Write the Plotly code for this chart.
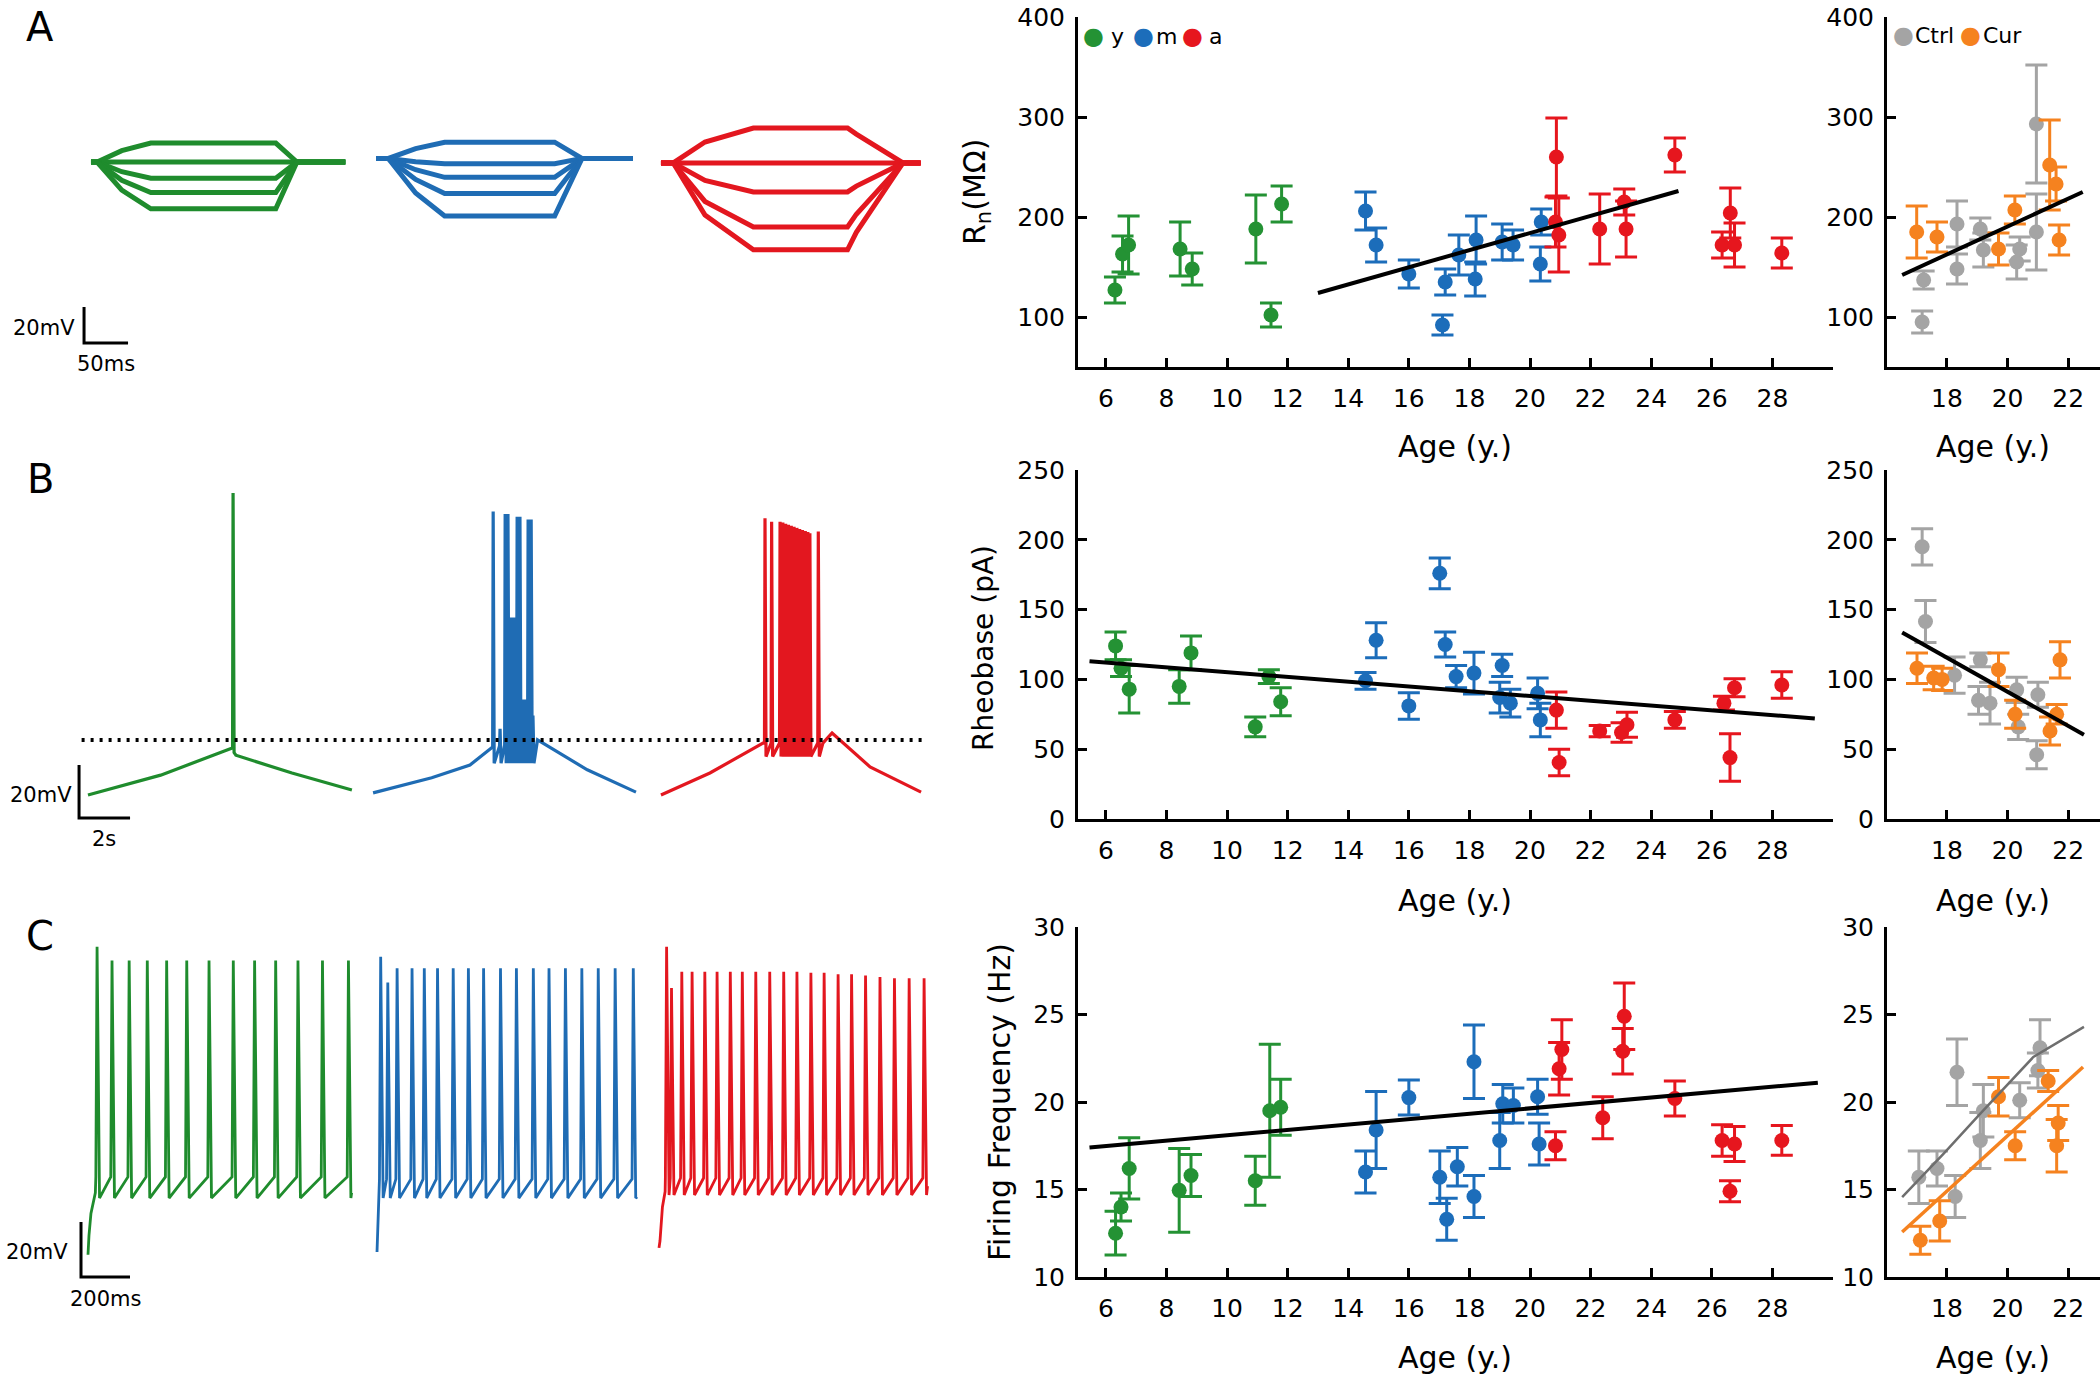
import numpy as np
import plotly.graph_objects as go

W, H = 2100, 1375
FONT = "DejaVu Sans"

# ---------------- colours ----------------
C_Y, C_M, C_A = "#249234", "#1c6dba", "#e6161e"
C_CTRL, C_CUR = "#a4a4a4", "#f5821f"
TR_Y, TR_M, TR_A = "#1f8c2d", "#1f6cb4", "#e3171f"

# ================= DATA =================
# ---- Panel A traces: hyperpolarising current steps (time ms, Vm mV) ----
stepA_t_y = [0, 7, 35, 68, 210, 234, 289]
stepA_v_y = [[-70, -70, -63.7, -59.5, -59.5, -70, -70],
             [-70, -70, -70.3, -70.5, -70.5, -70, -70],
             [-70, -70, -75.4, -79.0, -79.0, -70, -70],
             [-70, -70, -80.2, -87.0, -87.0, -70, -70],
             [-70, -70, -85.6, -96.0, -96.0, -70, -70]]
stepA_t_m = [0, 14, 45, 78, 203, 234, 292]
stepA_v_m = [[-68, -68, -62.6, -59.0, -59.0, -68, -68],
             [-68, -68, -69.8, -71.0, -71.0, -68, -68],
             [-68, -68, -74.3, -78.5, -78.5, -68, -68],
             [-68, -68, -79.7, -87.5, -87.5, -68, -68],
             [-68, -68, -87.2, -100.0, -100.0, -68, -68]]
stepA_t_a = [0, 14, 50, 105, 212, 222, 275, 295]
stepA_v_a = [[-70.5, -70.5, -58.9, -51.1, -51.1, -54.5, -70.5, -70.5],
             [-70.5, -70.5, -70.5, -70.5, -70.5, -70.5, -70.5, -70.5],
             [-70.5, -70.5, -80.2, -86.6, -86.6, -83.4, -70.5, -70.5],
             [-70.5, -70.5, -91.9, -106.1, -106.1, -99.0, -70.5, -70.5],
             [-70.5, -70.5, -99.5, -118.8, -118.8, -109.1, -70.5, -70.5]]

# ---- Panel B traces: ramp current (time s, Vm mV) ----
rampB_base_t_y = [0, 2.85, 5.66, 5.80, 8.0, 10.35]
rampB_base_v_y = [-70, -62.5, -52.3, -55, -61.7, -68.1]
rampB_spk_t_y = [5.69]
rampB_spk_v_y = [44]
rampB_trough_y = -54

rampB_base_t_m = [0, 2.3, 3.8, 4.68, 6.45, 8.4, 10.31]
rampB_base_v_m = [-69.2, -63.5, -58.7, -51.9, -49.2, -60.5, -68.9]
rampB_spk_t_m = [4.71, 4.98, 5.18, 5.29, 5.41, 5.49, 5.57, 5.65, 5.76, 5.84, 5.92, 6.00, 6.08, 6.20, 6.27]
rampB_spk_v_m = [37, -45, 36, 36, -3, -3, -3, 35, 35, -34, -34, -34, 34, 34, -40]
rampB_trough_m = -58

rampB_base_t_a = [0, 1.92, 4.0, 6.35, 6.71, 8.2, 10.2]
rampB_base_v_a = [-70, -61.7, -50.4, -50.4, -46.6, -59.4, -68.9]
rampB_spk_t_a = [4.08, 4.34, 4.67, 4.78, 4.89, 5.00, 5.11, 5.22, 5.33, 5.44, 5.55, 5.66, 5.76, 5.84, 6.17]
rampB_spk_v_a = [34.4, 33.1, 33.1, 32.8, 32.4, 32.0, 31.6, 31.2, 30.8, 30.4, 30.0, 29.6, 29.2, 28.8, 29.4]
rampB_trough_a = -55.5
rampB_threshold = -49.2

# ---- Panel C traces: 1 s depolarising step (time ms, Vm mV) ----
trainC_pre_t_y = [0, 4, 12, 30]
trainC_pre_v_y = [-91, -84, -76, -68.5]
trainC_spk_t_y = [37, 98, 168, 242, 321, 403, 494, 593, 680, 766, 857, 957, 1063]
trainC_spk_v_y = [21, 16, 16, 16, 16, 16, 16, 16, 16, 16, 16, 16, 16]
trainC_thr_y, trainC_trough_y = -62.7, -70.4
trainC_end_y = (1076, -68.5)

trainC_pre_t_m = [0, 3, 8]
trainC_pre_v_m = [-90, -80, -71]
trainC_spk_t_m = [15, 44, 82, 143, 193, 247, 311, 373, 435, 504, 569, 638, 702, 769, 836, 903, 972, 1046]
trainC_spk_v_m = [17.4, 8, 13.2, 13.2, 13.2, 13.2, 13.2, 13.2, 13.2, 13.2, 13.2, 13.2, 13.2, 13.2, 13.2, 13.2, 13.2, 13.2]
trainC_thr_m, trainC_trough_m = -63.5, -70.4
trainC_end_m = (1062, -70)

trainC_pre_t_a = [0, 4, 14, 25]
trainC_pre_v_a = [-88.5, -86, -73.6, -68]
trainC_spk_t_a = [31, 51, 93, 135, 187, 237, 291, 340, 395, 452, 509, 563, 620, 674, 731, 786, 843, 902, 961, 1021, 1082]
trainC_spk_v_a = [21, 6, 11.9, 11.9, 11.9, 11.9, 11.9, 11.9, 11.9, 11.9, 11.9, 11.9, 11.5, 11.5, 11, 11, 10.5, 10, 9.5, 9.5, 9.5]
trainC_thr_a, trainC_trough_a = -63.1, -69.3
trainC_end_a = (1096, -66)

# ---- Scatter: input resistance Rn (MOhm) ----
rn_age_y = [6.3, 6.55, 6.75, 8.45, 8.85, 10.95, 11.45, 11.8]
rn_val_y = [127, 163, 172, 168, 148, 188, 102, 213]
rn_err_y = [13, 18, 29, 27, 16, 34, 12, 18]
rn_age_m = [14.57, 14.92, 16.0, 17.11, 17.2, 17.65, 18.19, 18.22, 19.08, 19.44, 20.34, 20.37]
rn_val_m = [206, 172, 143, 92, 135, 162, 138, 177, 175, 172, 153, 195]
rn_err_m = [19, 17, 14, 10, 13, 20, 17, 24, 18, 15, 17, 13]
rn_age_a = [20.84, 20.87, 20.95, 22.3, 23.11, 23.17, 24.78, 26.34, 26.61, 26.75, 28.31]
rn_val_a = [195, 260, 182, 188, 215, 188, 262, 172, 204, 172, 164]
rn_err_a = [25, 39, 37, 35, 13, 28, 17, 13, 25, 22, 15]
rn_fit_age, rn_fit_val = [13.0, 24.9], [124, 226]

rn_age_ctrl = [17.18, 17.23, 18.33, 18.33, 19.1, 19.2, 20.3, 20.4, 20.95, 20.95]
rn_val_ctrl = [95, 137, 193, 148, 188, 167, 155, 168, 293, 185]
rn_err_ctrl = [11, 9, 23, 15, 11, 17, 17, 12, 59, 38]
rn_age_cur = [17.0, 17.67, 19.7, 20.24, 21.39, 21.6, 21.7]
rn_val_cur = [185, 180, 168, 207, 252, 233, 177]
rn_err_cur = [26, 15, 16, 14, 45, 17, 15]
rn_fit2_age, rn_fit2_val = [16.52, 22.48], [142, 225]

# ---- Scatter: rheobase (pA) ----
rh_age_y = [6.32, 6.5, 6.77, 8.42, 8.81, 10.93, 11.38, 11.77]
rh_val_y = [124, 108, 93, 95, 119, 66, 102, 84]
rh_err_y = [10, 6, 17, 12, 12, 7, 5, 10]
rh_age_m = [14.57, 14.92, 16.0, 17.02, 17.2, 17.56, 18.15, 19.0, 19.08, 19.35, 20.25, 20.34]
rh_val_m = [99, 128, 81, 176, 125, 102, 104.5, 87, 110, 83, 90, 71]
rh_err_m = [6, 12.5, 9.5, 11, 9, 8, 15, 11, 8, 10, 11, 12]
rh_age_a = [20.87, 20.96, 22.3, 23.02, 23.2, 24.78, 26.4, 26.6, 26.75, 28.31]
rh_val_a = [78, 40.5, 63, 62, 67.5, 71, 83, 44, 94, 96]
rh_err_a = [13, 9.5, 4, 7, 9, 6, 5, 17, 6.5, 9.5]
rh_fit_age, rh_fit_val = [5.46, 29.4], [113, 72]

rh_age_ctrl = [17.18, 17.29, 18.25, 19.1, 19.04, 19.42, 20.3, 20.35, 21.0, 20.96]
rh_val_ctrl = [195, 141.5, 103, 114, 85, 83, 92.5, 66, 89, 46]
rh_err_ctrl = [13, 15, 13, 5, 10, 15, 9, 9, 9, 10]
rh_age_cur = [17.01, 17.56, 17.84, 19.7, 20.25, 21.4, 21.62, 21.73]
rh_val_cur = [108, 101, 100, 107, 75, 63, 75, 114]
rh_err_cur = [11, 8.5, 8, 12, 10, 10, 7, 13]
rh_fit2_age, rh_fit2_val = [16.52, 22.52], [133.6, 60.4]

# ---- Scatter: firing frequency (Hz) ----
ff_age_y = [6.32, 6.5, 6.77, 8.42, 8.81, 10.93, 11.41, 11.77]
ff_val_y = [12.5, 14.0, 16.2, 14.95, 15.8, 15.5, 19.5, 19.7]
ff_err_y = [1.25, 0.8, 1.75, 2.4, 1.2, 1.4, 3.8, 1.6]
ff_age_m = [14.57, 14.92, 16.0, 17.02, 17.25, 17.6, 18.15, 18.15, 19.0, 19.1, 19.45, 20.25, 20.3]
ff_val_m = [16.0, 18.4, 20.25, 15.7, 13.3, 16.3, 22.3, 14.6, 17.8, 19.9, 19.8, 20.3, 17.6]
ff_err_m = [1.2, 2.2, 1.0, 1.5, 1.2, 1.1, 2.1, 1.2, 1.6, 1.1, 1.0, 1.0, 1.2]
ff_age_a = [20.84, 20.96, 21.05, 22.4, 23.06, 23.11, 24.78, 26.34, 26.6, 26.75, 28.31]
ff_val_a = [17.5, 21.9, 23.0, 19.1, 22.9, 24.9, 20.2, 17.8, 14.9, 17.6, 17.8]
ff_err_a = [0.8, 1.5, 1.7, 1.2, 1.3, 1.9, 1.0, 0.9, 0.6, 1.0, 0.85]
ff_fit_age, ff_fit_val = [5.46, 29.5], [17.4, 21.1]

ff_age_ctrl = [17.07, 17.67, 18.27, 18.33, 19.1, 19.2, 20.4, 21.0, 21.07]
ff_val_ctrl = [15.7, 16.2, 14.6, 21.7, 17.8, 19.5, 20.1, 21.8, 23.1]
ff_err_ctrl = [1.5, 1.0, 1.2, 1.9, 1.6, 1.5, 1.0, 1.0, 1.6]
ff_age_cur = [17.12, 17.76, 19.7, 20.25, 21.34, 21.67, 21.62]
ff_val_cur = [12.1, 13.2, 20.3, 17.5, 21.2, 18.8, 17.5]
ff_err_cur = [0.8, 1.15, 1.1, 0.8, 0.6, 1.0, 1.5]
ff_fit_ctrl_age = [16.52, 17.89, 19.1, 20.85, 22.52]
ff_fit_ctrl_val = [14.57, 17.05, 19.33, 22.57, 24.29]
ff_fit_cur_age, ff_fit_cur_val = [16.52, 22.49], [12.57, 22.0]

main_xticks = [6, 8, 10, 12, 14, 16, 18, 20, 22, 24, 26, 28]
side_xticks = [18, 20, 22]
rn_yticks = [100, 200, 300, 400]
rh_yticks = [0, 50, 100, 150, 200, 250]
ff_yticks = [10, 15, 20, 25, 30]

# ================= LAYOUT HELPERS =================
def fx(px):
    return px / W

def fy(py):
    return 1 - py / H

fig = go.Figure()

# trace rows: calibration (px per unit) and pixel box
ROWS = {
    1: dict(sx=0.88, sy=1.8, py_ref=162, py0=90, py1=390),
    2: dict(sx=25.5, sy=2.65, py_ref=795, py0=470, py1=860),
    3: dict(sx=0.245, sy=2.75, py_ref=1197, py0=920, py1=1310),
}
V_REF = -70
TRACE_PX = 960
cell_off = {1: [103.4, 427.3, 751.1], 2: [3.45, 14.63, 25.92], 3: [359.2, 1538.8, 2689.8]}


def line(x, y, xa, ya, color, width, dash=None):
    fig.add_trace(go.Scatter(x=x, y=y, mode="lines", xaxis=xa, yaxis=ya,
                             line=dict(color=color, width=width, dash=dash),
                             showlegend=False, hoverinfo="skip"))


# ---- Row A traces ----
for (T, VV, col, off) in [(stepA_t_y, stepA_v_y, TR_Y, cell_off[1][0]),
                          (stepA_t_m, stepA_v_m, TR_M, cell_off[1][1]),
                          (stepA_t_a, stepA_v_a, TR_A, cell_off[1][2])]:
    for V in VV:
        line([off + t for t in T], V, "x", "y", col, 5)


# ---- Row B traces ----
def ramp_train(bt, bv, st, sv, trough, rise=0.02, fall=0.04):
    lo, hi = st[0] - rise, st[-1] + fall
    pts = [(t, v) for t, v in zip(bt, bv) if t < lo or t > hi]
    for ts, pk in zip(st, sv):
        pts += [(ts - rise, float(np.interp(ts - rise, bt, bv))), (ts, pk), (ts + fall, trough)]
    pts.sort(key=lambda p: p[0])
    return [p[0] for p in pts], [p[1] for p in pts]


for (bt, bv, st, sv, tr, col, off) in [
        (rampB_base_t_y, rampB_base_v_y, rampB_spk_t_y, rampB_spk_v_y, rampB_trough_y, TR_Y, cell_off[2][0]),
        (rampB_base_t_m, rampB_base_v_m, rampB_spk_t_m, rampB_spk_v_m, rampB_trough_m, TR_M, cell_off[2][1]),
        (rampB_base_t_a, rampB_base_v_a, rampB_spk_t_a, rampB_spk_v_a, rampB_trough_a, TR_A, cell_off[2][2])]:
    xs, ys = ramp_train(bt, bv, st, sv, tr)
    line([off + t for t in xs], ys, "x2", "y2", col, 3.2)
line([3.2, 36.2], [rampB_threshold, rampB_threshold], "x2", "y2", "black", 4, "3px,6px")


# ---- Row C traces ----
def step_train(pt, pv, st, sv, thr, trough, end, rise=5, fall=10):
    xs, ys = list(pt), list(pv)
    for ts, pk in zip(st, sv):
        xs += [ts - rise, ts, ts + fall]
        ys += [thr, pk, trough]
    xs.append(end[0])
    ys.append(end[1])
    return xs, ys


for (pt, pv, st, sv, thr, tr, end, col, off) in [
        (trainC_pre_t_y, trainC_pre_v_y, trainC_spk_t_y, trainC_spk_v_y, trainC_thr_y, trainC_trough_y, trainC_end_y, TR_Y, cell_off[3][0]),
        (trainC_pre_t_m, trainC_pre_v_m, trainC_spk_t_m, trainC_spk_v_m, trainC_thr_m, trainC_trough_m, trainC_end_m, TR_M, cell_off[3][1]),
        (trainC_pre_t_a, trainC_pre_v_a, trainC_spk_t_a, trainC_spk_v_a, trainC_thr_a, trainC_trough_a, trainC_end_a, TR_A, cell_off[3][2])]:
    xs, ys = step_train(pt, pv, st, sv, thr, tr, end)
    line([off + t for t in xs], ys, "x3", "y3", col, 2.8)

# ---- scale bars (lengths in data units) ----
SCALEBARS = {1: ((95.5, -170.6), 50, 20), 2: ((3.10, -78.7), 2, 20), 3: ((330.6, -99.1), 200, 20)}
for r, ((t0, v0), dt, dv) in SCALEBARS.items():
    line([t0, t0, t0 + dt], [v0 + dv, v0, v0], "x%d" % r, "y%d" % r, "black", 3)

# ================= SCATTER PANELS =================
def group(xa, ya, age, val, err, color):
    fig.add_trace(go.Scatter(x=age, y=val, mode="markers", xaxis=xa, yaxis=ya,
                             marker=dict(size=15, color=color, line=dict(width=0)),
                             error_y=dict(type="data", array=err, color=color, thickness=3, width=11),
                             showlegend=False, hoverinfo="skip"))


# Rn
group("x4", "y4", rn_age_y, rn_val_y, rn_err_y, C_Y)
group("x4", "y4", rn_age_m, rn_val_m, rn_err_m, C_M)
group("x4", "y4", rn_age_a, rn_val_a, rn_err_a, C_A)
line(rn_fit_age, rn_fit_val, "x4", "y4", "black", 4)
group("x5", "y5", rn_age_ctrl, rn_val_ctrl, rn_err_ctrl, C_CTRL)
group("x5", "y5", rn_age_cur, rn_val_cur, rn_err_cur, C_CUR)
line(rn_fit2_age, rn_fit2_val, "x5", "y5", "black", 4)
# Rheobase
group("x6", "y6", rh_age_y, rh_val_y, rh_err_y, C_Y)
group("x6", "y6", rh_age_m, rh_val_m, rh_err_m, C_M)
group("x6", "y6", rh_age_a, rh_val_a, rh_err_a, C_A)
line(rh_fit_age, rh_fit_val, "x6", "y6", "black", 4)
group("x7", "y7", rh_age_ctrl, rh_val_ctrl, rh_err_ctrl, C_CTRL)
group("x7", "y7", rh_age_cur, rh_val_cur, rh_err_cur, C_CUR)
line(rh_fit2_age, rh_fit2_val, "x7", "y7", "black", 4)
# Firing frequency
group("x8", "y8", ff_age_y, ff_val_y, ff_err_y, C_Y)
group("x8", "y8", ff_age_m, ff_val_m, ff_err_m, C_M)
group("x8", "y8", ff_age_a, ff_val_a, ff_err_a, C_A)
line(ff_fit_age, ff_fit_val, "x8", "y8", "black", 4)
group("x9", "y9", ff_age_ctrl, ff_val_ctrl, ff_err_ctrl, C_CTRL)
group("x9", "y9", ff_age_cur, ff_val_cur, ff_err_cur, C_CUR)
line(ff_fit_ctrl_age, ff_fit_ctrl_val, "x9", "y9", "#6e6e6e", 2.5)
line(ff_fit_cur_age, ff_fit_cur_val, "x9", "y9", C_CUR, 3.5)

# ================= AXES =================
lay = dict(width=W, height=H, margin=dict(l=0, r=0, t=0, b=0, pad=0, autoexpand=False),
           plot_bgcolor="white", paper_bgcolor="white", showlegend=False,
           font=dict(family=FONT, color="black"))

for r, c in ROWS.items():
    sfx = "" if r == 1 else str(r)
    lay["xaxis" + sfx] = dict(domain=[0, fx(TRACE_PX)], range=[0, TRACE_PX / c["sx"]], visible=False,
                              anchor="y" + sfx, automargin=False)
    lay["yaxis" + sfx] = dict(domain=[fy(c["py1"]), fy(c["py0"])],
                              range=[V_REF - (c["py1"] - c["py_ref"]) / c["sy"],
                                     V_REF + (c["py_ref"] - c["py0"]) / c["sy"]],
                              visible=False, anchor="x" + sfx, automargin=False)

axc = dict(showline=True, linecolor="black", linewidth=3, ticks="inside", ticklen=9, tickwidth=3,
           tickcolor="black", showgrid=False, zeroline=False, automargin=False,
           tickfont=dict(family=FONT, size=25, color="black"))
MAIN_X = (1078, 1833, [5.08, 30.0])
SIDE_X = (1887, 2100, [16.02, 23.05])
ROWS_Y = [(17, 367, [50, 400], rn_yticks), (470, 819, [0, 250], rh_yticks), (927, 1277, [10, 30], ff_yticks)]
n = 4
for (py0, py1, yr, yt) in ROWS_Y:
    for (px0, px1, xr), xt in [(MAIN_X, main_xticks), (SIDE_X, side_xticks)]:
        lay["xaxis%d" % n] = dict(axc, domain=[fx(px0), fx(px1)], range=xr, tickvals=xt,
                                  anchor="y%d" % n, ticklabelstandoff=7)
        lay["yaxis%d" % n] = dict(axc, domain=[fy(py1), fy(py0)], range=yr, tickvals=yt,
                                  anchor="x%d" % n, ticklabelstandoff=5)
        n += 1

ann = []


def text(px, py, s, size, xanchor="center", color="black", angle=0):
    ann.append(dict(x=fx(px), y=fy(py), xref="paper", yref="paper", text=s, showarrow=False,
                    xanchor=xanchor, yanchor="middle", textangle=angle,
                    font=dict(family=FONT, size=size, color=color)))


# panel letters
text(40, 27, "A", 40)
text(40, 479, "B", 40)
text(40, 936, "C", 40)
# scale bar labels
text(77, 328, "20mV", 21, "right")
text(106, 364, "50ms", 21)
text(74, 795, "20mV", 21, "right")
text(104, 839, "2s", 21)
text(70, 1252, "20mV", 21, "right")
text(105, 1299, "200ms", 21)
# axis titles
for yy in (446, 900, 1357):
    text(1455, yy, "Age (y.)", 30)
    text(1993, yy, "Age (y.)", 30)
text(976, 192, "R<sub>n</sub>(MΩ)", 30, angle=-90)
text(983, 648, "Rheobase (pA)", 28, angle=-90)
text(999, 1102, "Firing Frequency (Hz)", 30, angle=-90)
# legends
for px, s, col in [(1093, "●", C_Y), (1117, "y", "black"), (1143, "●", C_M), (1166, "m", "black"),
                   (1192, "●", C_A), (1215, "a", "black")]:
    text(px, 36, s, 24 if s == "●" else 22, color=col)
for px, s, col in [(1903, "●", C_CTRL), (1934, "Ctrl", "black"), (1970, "●", C_CUR), (2002, "Cur", "black")]:
    text(px, 35, s, 24 if s == "●" else 22, color=col)

lay["annotations"] = ann
fig.update_layout(**lay)
fig.write_html("out.html", config={"displayModeBar": False},
               post_script="document.body.style.margin='0px';document.body.style.overflow='hidden';")
